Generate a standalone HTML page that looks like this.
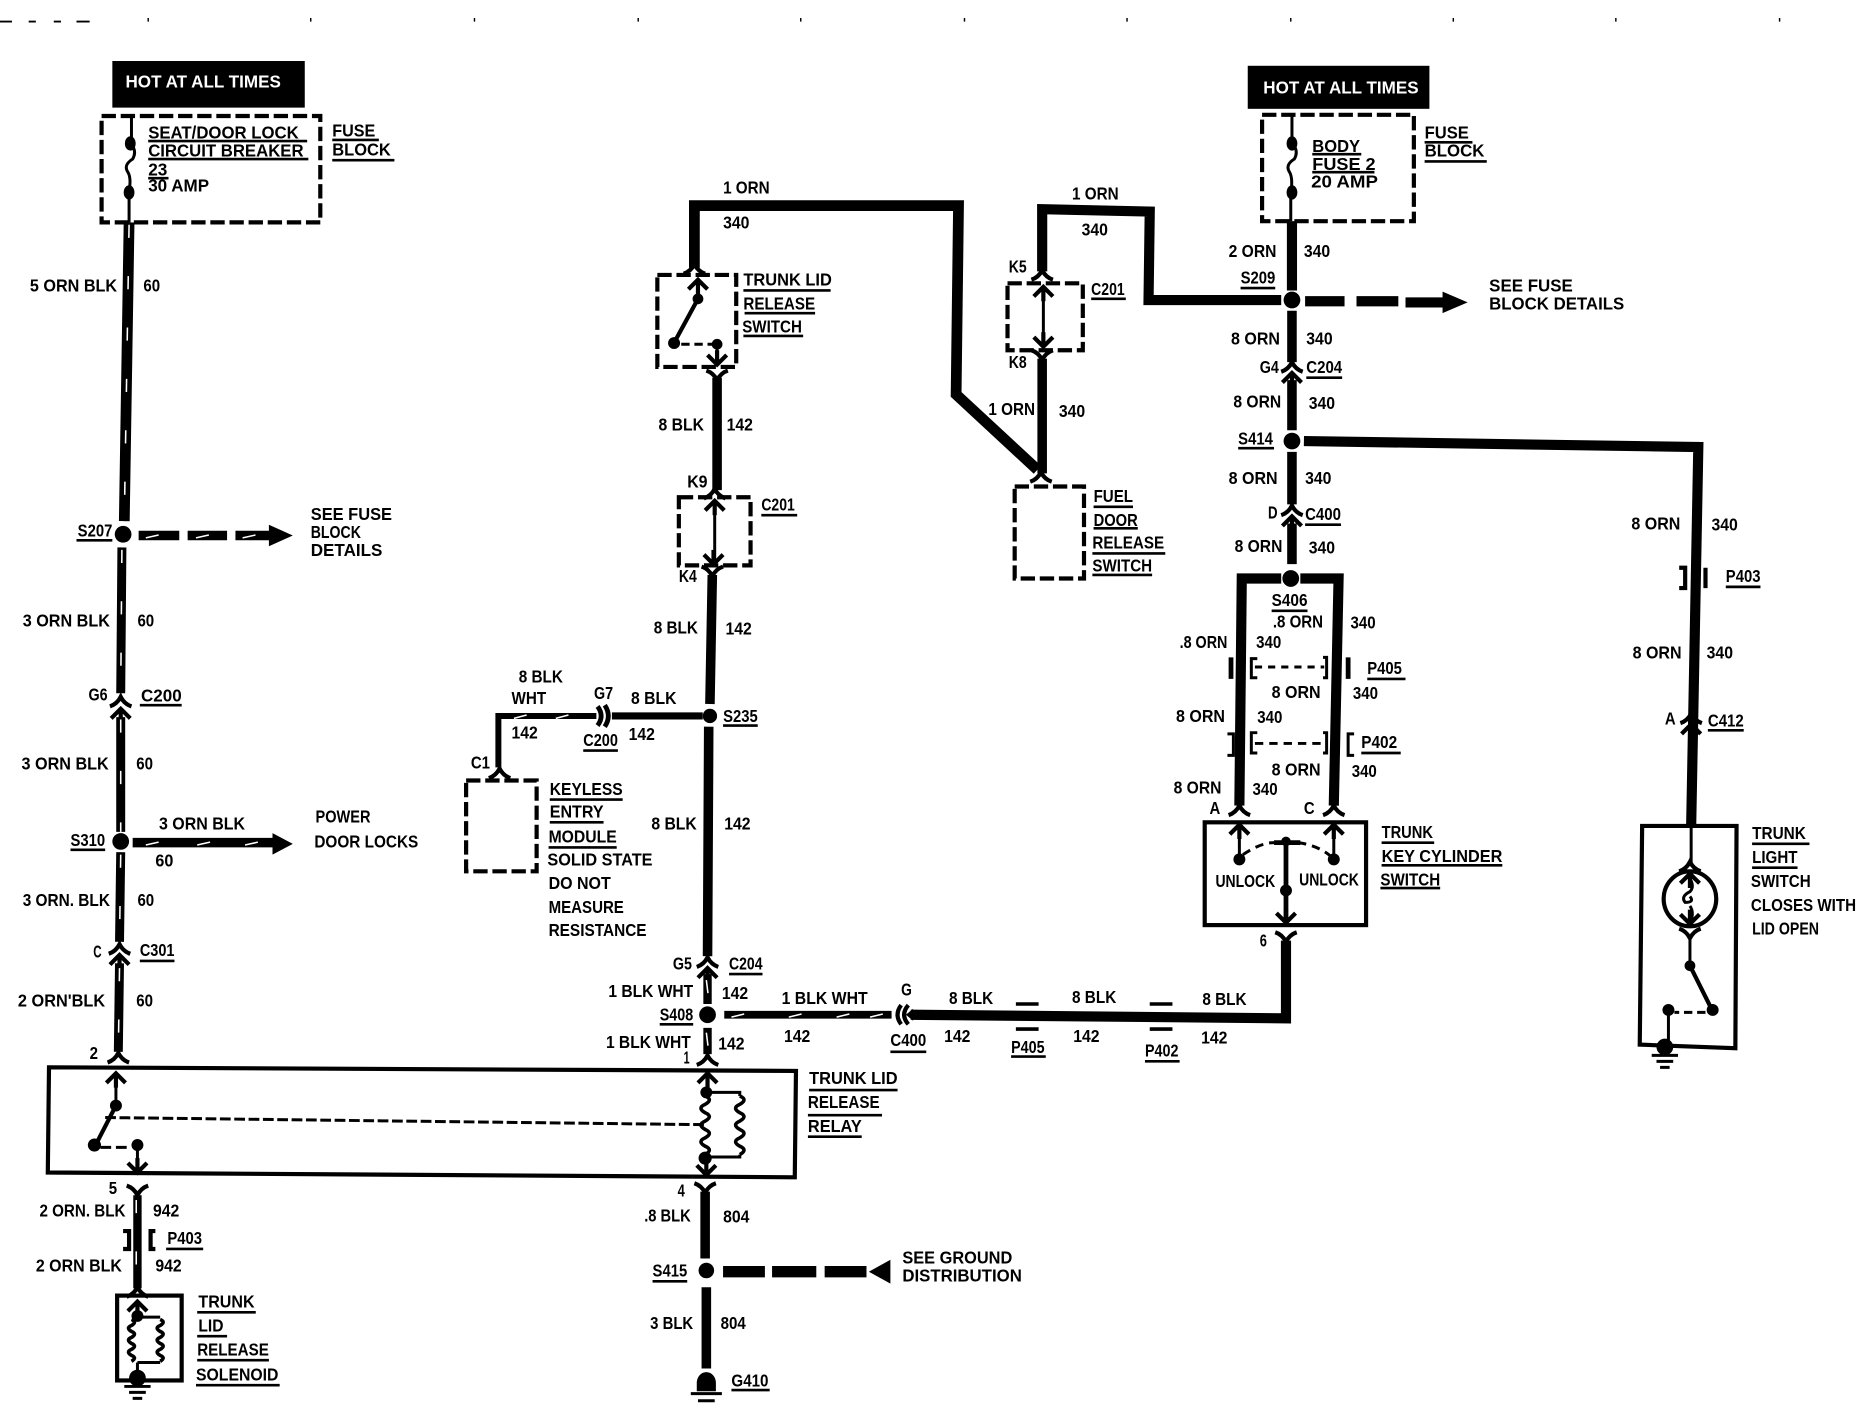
<!DOCTYPE html>
<html><head><meta charset="utf-8"><style>
html,body{margin:0;padding:0;background:#fff;width:1874px;height:1408px;overflow:hidden}
svg{display:block}
text{font-family:"Liberation Sans",sans-serif;font-weight:bold;font-size:15px;fill:#000}
.w{fill:none;stroke:#000;stroke-linejoin:miter;stroke-linecap:butt}
.d{fill:none;stroke:#000;stroke-width:3.5;stroke-dasharray:12 4}
.k{fill:none;stroke:#fff;stroke-width:1.3;stroke-dasharray:11 32}
.t{fill:none;stroke:#000;stroke-width:2.5}
</style></head><body>
<svg width="1874" height="1408" viewBox="0 0 1568 1178" xmlns="http://www.w3.org/2000/svg">
<defs>
<path id="u" d="M-9 5 Q-3 3 0 -3 Q3 3 9 5" fill="none" stroke="#000" stroke-width="3.5"/>
<path id="v" d="M-9 -5 Q-3 -3 0 3 Q3 -3 9 -5" fill="none" stroke="#000" stroke-width="3.5"/>
<path id="au" d="M-8 6 L0 -2 L8 6 M0 -2 V10" fill="none" stroke="#000" stroke-width="3.5"/>
<path id="av" d="M-8 -6 L0 2 L8 -6 M0 2 V-10" fill="none" stroke="#000" stroke-width="3.5"/>
<path id="coil" d="M0 0 q7 3 0 7 q-7 3 0 7 q7 3 0 7 q-7 3 0 7 q7 3 0 7 q-7 3 0 7 q7 3 0 7" fill="none" stroke="#000" stroke-width="3"/>
<path id="coils" d="M0 0 q5 2 0 5 q-5 2 0 5 q5 2 0 5 q-5 2 0 5 q5 2 0 5 q-5 2 0 5 q5 2 0 5" fill="none" stroke="#000" stroke-width="3"/>
</defs>

<!-- top marks -->
<path d="M0 18H10M24 18H30M45 18H51M64 18H75" stroke="#000" stroke-width="1.5"/>
<path d="M124 15v3M260 15v3M397 15v3M534 15v3M670 15v3M807 15v3M943 15v3M1080 15v3M1216 15v3M1352 15v3M1489 15v3" stroke="#000" stroke-width="1.2"/>

<!-- HOT boxes -->
<rect x="94" y="51" width="161" height="39" fill="#000"/>
<rect x="1044" y="55" width="152" height="36" fill="#000"/>

<!-- Fuse boxes -->
<rect class="d" x="85" y="97" width="183" height="89"/>
<rect class="d" x="1056" y="96" width="127" height="89"/>
<path class="t" d="M110 97V120M109 120q6 6 2 13q-8 5 -4 11q3 5 1 16V186"/>
<path class="t" d="M1081 96V120q6 6 2 13q-8 5 -4 11q3 5 1 18V185"/>
<ellipse cx="109" cy="120" rx="4.5" ry="6"/><ellipse cx="108" cy="161" rx="4.5" ry="6"/>
<ellipse cx="1081" cy="120" rx="4.5" ry="6"/><ellipse cx="1081" cy="161" rx="4.5" ry="6"/>

<!-- Left main wire -->
<path class="w" stroke-width="9" d="M108 186L104 436"/>
<path class="k" d="M108 188L104 436"/>
<circle cx="103" cy="447" r="7"/>
<path class="w" stroke-width="7.5" d="M102 458L101 580"/><path class="k" d="M102 460L101 580"/>
<use href="#u" x="101" y="586"/><use href="#au" x="101" y="595"/>
<path class="w" stroke-width="7.5" d="M101 600V696"/><path class="k" d="M101 602V696"/>
<circle cx="101" cy="704" r="7"/>
<path class="w" stroke-width="7.5" d="M101 713L100 788"/><path class="k" d="M101 715L100 788"/>
<use href="#u" x="100" y="793"/><use href="#au" x="100" y="801"/>
<path class="w" stroke-width="7.5" d="M100 806L99 880"/><path class="k" d="M100 810L99 880"/>
<use href="#u" x="99" y="884"/>

<!-- S207 arrow -->
<path class="w" stroke-width="8" d="M116 448H150M157 448H190M197 448H226"/>
<path class="k" d="M122 450L140 446M164 450L182 446M203 450L221 446" stroke-dasharray="none"/>
<path d="M225 439L245 448L225 457Z"/>
<!-- S310 arrow -->
<path class="w" stroke-width="8" d="M111 705H230"/>
<path class="k" d="M122 707L140 703M165 707L183 703M205 707L223 703" stroke-dasharray="none"/>
<path d="M228 697L245 706L228 715Z"/>

<!-- Relay -->
<path fill="none" stroke="#000" stroke-width="3.5" d="M41 893L666 896L665 985L40 981Z"/>
<use href="#au" x="97" y="900"/><path class="t" d="M97 905V925"/><circle cx="97" cy="925" r="5"/>
<path class="w" stroke-width="3.5" d="M97 925L80 958"/><circle cx="79" cy="958" r="5.5"/>
<path class="t" stroke-dasharray="9 3" d="M88 935L590 941"/>
<path class="t" stroke-dasharray="9 4" d="M84 960H110"/><circle cx="115" cy="958" r="5"/>
<path class="t" d="M115 958V978"/><use href="#av" x="115" y="979"/>
<use href="#au" x="592" y="900"/><circle cx="591" cy="914" r="5"/>
<use href="#coil" x="590" y="917"/><use href="#coil" x="619" y="917"/>
<path class="t" d="M591 914H619V917M590 968H619V966"/>
<circle cx="590" cy="969" r="5.5"/><use href="#av" x="591" y="981"/>

<!-- Solenoid -->
<use href="#v" x="115" y="997"/>
<path class="w" stroke-width="7" d="M115 1000V1078"/><path class="k" stroke-width="1" d="M114 1004V1075"/>
<use href="#u" x="115" y="1080"/>
<path class="w" stroke-width="3.5" d="M103 1030H108V1045H103M130 1030H126V1045H130"/>
<rect x="98" y="1084" width="54" height="71" fill="none" stroke="#000" stroke-width="3.5"/>
<use href="#au" x="115" y="1091"/><circle cx="115" cy="1101" r="5"/>
<path class="t" stroke-width="3" d="M115 1102H134M115 1140H134"/>
<use href="#coils" x="110" y="1104"/><use href="#coils" x="134" y="1104"/>
<path class="t" d="M115 1140V1150"/><circle cx="115" cy="1153" r="7"/>
<path d="M104 1160H126M108 1165H122M111 1170H119" stroke="#000" stroke-width="2.5"/>

<!-- Trunk lid release switch wire -->
<path class="w" stroke-width="9" d="M581 224V172H802L800 330L868 393"/>
<use href="#u" x="581" y="224"/>
<rect class="d" x="550" y="230" width="66" height="77"/>
<use href="#au" x="584" y="236"/><path class="t" d="M584 236V250"/><circle cx="584" cy="250" r="4.5"/>
<path class="w" stroke-width="3.5" d="M584 250L565 285"/><circle cx="564" cy="287" r="5"/>
<path class="t" stroke-dasharray="7 4" d="M570 288H596"/><circle cx="600" cy="288" r="4.5"/>
<path class="t" d="M600 288V304"/><use href="#av" x="600" y="303"/>
<use href="#v" x="600" y="315"/>
<path class="w" stroke-width="8" d="M600 316V410"/>
<use href="#u" x="598" y="412"/>
<rect class="d" x="568" y="416" width="60" height="57"/>
<use href="#au" x="598" y="421"/><path class="t" d="M598 423V470"/><use href="#av" x="597" y="470"/>
<use href="#v" x="596" y="479"/>
<path class="w" stroke-width="8" d="M596 481L594 589M593 608L592 800"/>
<circle cx="594" cy="599" r="6"/>
<use href="#u" x="592" y="804"/><use href="#au" x="592" y="812"/>
<path class="w" stroke-width="7" d="M592 815V840"/><path class="k" stroke-dasharray="none" d="M591 820L593 836"/>
<circle cx="592" cy="849" r="7"/>
<path class="w" stroke-width="7" d="M592 860V882"/><path class="k" stroke-dasharray="none" d="M591 864L593 880"/>
<use href="#u" x="592" y="886"/>

<!-- Wire S235 branch -->
<path class="w" stroke-width="6" d="M588 599H512"/>
<path class="w" stroke-width="4" d="M506 590Q512 599 506 608M500 591Q506 599 500 607"/>
<path class="w" stroke-width="5" d="M499 599H417V642"/>
<path class="k" stroke-dasharray="none" d="M430 601L445 597M465 601L480 597"/>
<use href="#u" x="418" y="646"/>
<rect class="d" x="390" y="653" width="59" height="76"/>

<!-- S408 horizontal -->
<path class="w" stroke-width="6.5" d="M606 849H746"/>
<path class="k" stroke-dasharray="none" d="M612 851L628 847M660 851L676 847M700 851L716 847M728 851L744 847"/>
<path class="w" stroke-width="3.5" d="M754 841Q748 849 754 857"/>
<path class="w" stroke-width="3.5" d="M760 841Q753 849 760 857"/>
<path class="w" stroke-width="8.5" d="M762 849L1076 852V787"/>
<path d="M758 849l6 -5v10Z"/>
<use href="#v" x="1076" y="785"/>
<path d="M850 840H869M850 861H869M962 840H981M962 861H981" stroke="#000" stroke-width="3"/>

<!-- S415 -->
<use href="#v" x="590" y="995"/>
<path class="w" stroke-width="8" d="M590 997V1053"/>
<circle cx="591" cy="1063" r="6.5"/>
<path class="w" stroke-width="9.5" d="M605 1064H640M646 1064H683M690 1064H725"/>
<path d="M727 1064L745 1054V1074Z"/>
<path class="w" stroke-width="8" d="M591 1077V1145"/>
<path d="M583 1164V1157A8 9 0 0 1 599 1157V1164Z"/>
<path d="M578 1166H604M584 1172H598" stroke="#000" stroke-width="2.5"/>

<!-- Right main -->
<path class="w" stroke-width="8.5" d="M1081 185V243"/>
<circle cx="1081" cy="251" r="7"/>
<path class="w" stroke-width="8.5" d="M1072 251H961L962 177L872 175V227"/>
<use href="#u" x="872" y="229"/>
<rect class="d" x="843" y="237" width="63" height="56"/>
<use href="#au" x="873" y="242"/><path class="t" stroke-width="2" d="M873 242V288"/><use href="#av" x="873" y="288"/>
<use href="#v" x="872" y="298"/>
<path class="w" stroke-width="8" d="M872 300V396"/>
<use href="#u" x="871" y="398"/>
<rect class="d" x="849" y="407" width="58" height="77"/>

<path class="w" stroke-width="8.5" d="M1092 252H1125M1135 252H1170M1176 253H1209"/>
<path d="M1207 244L1228 253L1207 262Z"/>
<path class="w" stroke-width="8" d="M1081 260V303"/>
<use href="#u" x="1081" y="306"/><use href="#au" x="1081" y="314"/>
<path class="w" stroke-width="8" d="M1081 318V360"/>
<circle cx="1081" cy="369" r="7"/>
<path class="w" stroke-width="8.5" d="M1091 369L1421 374L1415 692"/>
<path class="w" stroke-width="8" d="M1081 378V422"/>
<use href="#u" x="1081" y="426"/><use href="#au" x="1081" y="434"/>
<path class="w" stroke-width="8" d="M1081 438V472"/>
<circle cx="1080" cy="484" r="7"/>
<path class="w" stroke-width="8.5" d="M1072 484H1039L1037 674"/>
<path class="w" stroke-width="8.5" d="M1088 484H1120L1116 674"/>
<use href="#u" x="1037" y="677"/><use href="#u" x="1116" y="677"/>
<path d="M1030 550V568M1128 550V568" stroke="#000" stroke-width="4"/>
<path class="t" stroke-width="2" d="M1052 551H1047V567H1052M1107 550H1110V567H1107"/>
<path class="t" stroke-width="1" stroke-dasharray="6 5" d="M1050 558H1108"/>
<path class="t" stroke-width="3.5" d="M1027 614H1032V632H1027M1133 614H1128V632H1133"/>
<path class="t" d="M1052 613H1047V630H1052M1107 613H1110V630H1107"/>
<path class="t" stroke-dasharray="7 5" d="M1050 622H1108"/>

<!-- Key cylinder -->
<rect x="1008" y="688" width="135" height="86" fill="none" stroke="#000" stroke-width="3.5"/>
<use href="#au" x="1037" y="692"/><path class="t" d="M1037 694V716"/><circle cx="1037" cy="719" r="5"/>
<use href="#au" x="1116" y="692"/><path class="t" d="M1116 694V716"/><circle cx="1116" cy="719" r="5"/>
<path class="t" stroke-dasharray="7 5" d="M1040 715Q1055 705 1066 705M1086 705Q1102 707 1113 716"/>
<path class="w" stroke-width="4" d="M1066 705H1088"/><path class="w" stroke-width="4" d="M1076 702V770"/>
<circle cx="1076" cy="704" r="4"/><circle cx="1076" cy="745" r="5"/>
<use href="#av" x="1076" y="770"/>

<!-- Trunk light -->
<path d="M1405 475H1410V492H1405M1427 475V492" fill="none" stroke="#000" stroke-width="3.5"/>
<use href="#u" x="1415" y="600"/><use href="#au" x="1415" y="608"/>
<path fill="none" stroke="#000" stroke-width="3.5" d="M1374 691H1453L1452 877L1372 874Z"/>
<path class="t" d="M1415 691V722"/>
<use href="#u" x="1414" y="724"/><use href="#au" x="1414" y="733"/>
<ellipse cx="1414" cy="752" rx="22" ry="23" fill="none" stroke="#000" stroke-width="3.5"/>
<path class="t" d="M1414 735Q1418 742 1414 746Q1406 750 1410 755Q1418 755 1414 750M1414 758Q1418 764 1414 772"/>
<use href="#av" x="1414" y="771"/>
<use href="#v" x="1414" y="782"/>
<path class="t" d="M1414 784V806"/><circle cx="1414" cy="808" r="4.5"/>
<path class="w" stroke-width="3.5" d="M1414 808L1432 844"/><circle cx="1433" cy="845" r="5"/>
<path class="t" stroke-dasharray="7 4" d="M1427 847H1401"/><circle cx="1396" cy="845" r="5"/>
<path class="t" d="M1396 845V872"/><circle cx="1393" cy="876" r="7"/>
<path d="M1382 883H1404M1386 888H1400M1389 893H1397" stroke="#000" stroke-width="2.5"/>

<!-- underlines -->
<path stroke="#000" stroke-width="2.2" fill="none" d="M124 118H257M124 133H258M124 149H141M278 117H317M278 134H330
M1098 129H1139M1098 144H1150M1192 119H1232M1192 135H1244
M64 452H94M117 590H152M59 711H88M117 804H146M139 1045H170M165 1098H214M165 1118H190M165 1138H225M164 1159H234
M622 243H695M623 262H682M622 281H672M637 431H667M605 607H634M488 628H517M460 669H521M460 688H505M459 709H516
M610 815H638M552 857H580M745 880H775M846 884H875M958 888H987M677 912H751M676 933H738M676 951H721M546 1072H575M612 1163H644
M913 250H942M915 424H948M915 442H952M914 463H975M914 481H964
M1038 241H1067M1093 316H1123M1036 375H1066M1092 439H1122M1064 511H1094M1144 568H1176M1139 630H1172
M1156 705H1200M1156 724H1257M1155 743H1205M1444 491H1473M1429 611H1459M1466 706H1514M1466 726H1504"/>

<!-- Arial-like labels -->
<g>
<text x="105" y="73" textLength="130" style="fill:#fff">HOT AT ALL TIMES</text>
<text x="1057" y="78" textLength="130" style="fill:#fff">HOT AT ALL TIMES</text>
<text x="124" y="116" textLength="126">SEAT/DOOR LOCK</text>
<text x="124" y="131" textLength="130">CIRCUIT BREAKER</text>
<text x="124" y="147" textLength="16">23</text>
<text x="124" y="160" textLength="51">30 AMP</text>
<text x="278" y="114" textLength="36">FUSE</text>
<text x="278" y="130" textLength="49">BLOCK</text>
<text x="1098" y="127" textLength="40">BODY</text>
<text x="1098" y="142" textLength="53">FUSE 2</text>
<text x="1097" y="157" textLength="56">20 AMP</text>
<text x="1192" y="116" textLength="37">FUSE</text>
<text x="1192" y="131" textLength="50">BLOCK</text>
<text x="1246" y="244" textLength="70">SEE FUSE</text>
<text x="1246" y="259" textLength="113">BLOCK DETAILS</text>
<text x="260" y="435" textLength="68">SEE FUSE</text>
<text x="260" y="450" textLength="42">BLOCK</text>
<text x="260" y="465" textLength="60">DETAILS</text>
<text x="755" y="1057" textLength="92">SEE GROUND</text>
<text x="755" y="1072" textLength="100">DISTRIBUTION</text>
<text x="1017" y="742" textLength="50">UNLOCK</text>
<text x="1087" y="741" textLength="50">UNLOCK</text>
</g>

<!-- Wire labels -->
<g>
<text x="25" y="244" textLength="73">5 ORN BLK</text><text x="120" y="244" textLength="14">60</text>
<text x="65" y="449" textLength="29">S207</text>
<text x="19" y="524" textLength="73">3 ORN BLK</text><text x="115" y="524" textLength="14">60</text>
<text x="74" y="586" textLength="16">G6</text><text x="118" y="587" textLength="34">C200</text>
<text x="18" y="644" textLength="73">3 ORN BLK</text><text x="114" y="644" textLength="14">60</text>
<text x="264" y="688" textLength="46">POWER</text><text x="263" y="709" textLength="87">DOOR LOCKS</text>
<text x="59" y="708" textLength="29">S310</text>
<text x="133" y="694" textLength="72">3 ORN BLK</text><text x="130" y="725" textLength="15">60</text>
<text x="19" y="758" textLength="73">3 ORN. BLK</text><text x="115" y="758" textLength="14">60</text>
<text x="78" y="801" textLength="7">C</text><text x="117" y="800" textLength="29">C301</text>
<text x="15" y="842" textLength="73">2 ORN'BLK</text><text x="114" y="842" textLength="14">60</text>
<text x="75" y="886" textLength="7">2</text><text x="91" y="999" textLength="7">5</text>
<text x="33" y="1018" textLength="72">2 ORN. BLK</text><text x="128" y="1018" textLength="22">942</text>
<text x="140" y="1041" textLength="29">P403</text>
<text x="30" y="1064" textLength="72">2 ORN BLK</text><text x="130" y="1064" textLength="22">942</text>
<text x="166" y="1094" textLength="47">TRUNK</text><text x="166" y="1114" textLength="21">LID</text>
<text x="165" y="1134" textLength="60">RELEASE</text><text x="164" y="1155" textLength="69">SOLENOID</text>

<text x="605" y="162" textLength="39">1 ORN</text><text x="605" y="191" textLength="22">340</text>
<text x="622" y="239" textLength="74">TRUNK LID</text><text x="622" y="259" textLength="60">RELEASE</text><text x="621" y="278" textLength="50">SWITCH</text>
<text x="551" y="360" textLength="38">8 BLK</text><text x="608" y="360" textLength="22">142</text>
<text x="575" y="408" textLength="17">K9</text><text x="637" y="427" textLength="28">C201</text>
<text x="568" y="487" textLength="15">K4</text>
<text x="547" y="530" textLength="37">8 BLK</text><text x="607" y="531" textLength="22">142</text>
<text x="434" y="571" textLength="37">8 BLK</text><text x="428" y="589" textLength="29">WHT</text>
<text x="497" y="585" textLength="16">G7</text><text x="528" y="589" textLength="38">8 BLK</text>
<text x="605" y="604" textLength="29">S235</text>
<text x="428" y="618" textLength="22">142</text><text x="488" y="624" textLength="29">C200</text><text x="526" y="619" textLength="22">142</text>
<text x="394" y="643" textLength="16">C1</text>
<text x="460" y="665" textLength="61">KEYLESS</text><text x="460" y="684" textLength="45">ENTRY</text><text x="459" y="705" textLength="57">MODULE</text>
<text x="458" y="724" textLength="88">SOLID STATE</text><text x="459" y="744" textLength="52">DO NOT</text>
<text x="459" y="764" textLength="63">MEASURE</text><text x="459" y="783" textLength="82">RESISTANCE</text>
<text x="545" y="694" textLength="38">8 BLK</text><text x="606" y="694" textLength="22">142</text>
<text x="563" y="811" textLength="16">G5</text><text x="610" y="811" textLength="28">C204</text>
<text x="509" y="834" textLength="71">1 BLK WHT</text><text x="604" y="836" textLength="22">142</text>
<text x="552" y="854" textLength="28">S408</text>
<text x="507" y="877" textLength="71">1 BLK WHT</text><text x="601" y="878" textLength="22">142</text>
<text x="572" y="890" textLength="5">1</text>
<text x="654" y="840" textLength="72">1 BLK WHT</text><text x="754" y="833" textLength="9">G</text>
<text x="656" y="872" textLength="22">142</text>
<text x="794" y="840" textLength="37">8 BLK</text><text x="790" y="872" textLength="22">142</text>
<text x="745" y="875" textLength="30">C400</text><text x="846" y="881" textLength="28">P405</text>
<text x="897" y="839" textLength="37">8 BLK</text><text x="898" y="872" textLength="22">142</text>
<text x="958" y="884" textLength="28">P402</text>
<text x="1006" y="841" textLength="37">8 BLK</text><text x="1005" y="873" textLength="22">142</text>
<text x="677" y="907" textLength="74">TRUNK LID</text><text x="676" y="927" textLength="60">RELEASE</text><text x="676" y="947" textLength="45">RELAY</text>
<text x="567" y="1001" textLength="6">4</text>
<text x="539" y="1022" textLength="39">.8 BLK</text><text x="605" y="1023" textLength="22">804</text>
<text x="546" y="1068" textLength="29">S415</text>
<text x="544" y="1112" textLength="36">3 BLK</text><text x="603" y="1112" textLength="21">804</text>
<text x="612" y="1160" textLength="31">G410</text>

<text x="897" y="167" textLength="39">1 ORN</text><text x="905" y="197" textLength="22">340</text>
<text x="844" y="228" textLength="15">K5</text><text x="913" y="247" textLength="28">C201</text><text x="844" y="308" textLength="15">K8</text>
<text x="827" y="347" textLength="39">1 ORN</text><text x="886" y="349" textLength="22">340</text>
<text x="915" y="420" textLength="33">FUEL</text><text x="915" y="440" textLength="37">DOOR</text>
<text x="914" y="459" textLength="60">RELEASE</text><text x="914" y="478" textLength="50">SWITCH</text>

<text x="1028" y="215" textLength="40">2 ORN</text><text x="1091" y="215" textLength="22">340</text>
<text x="1038" y="237" textLength="29">S209</text>
<text x="1030" y="288" textLength="41">8 ORN</text><text x="1093" y="288" textLength="22">340</text>
<text x="1054" y="312" textLength="16">G4</text><text x="1093" y="312" textLength="30">C204</text>
<text x="1032" y="341" textLength="40">8 ORN</text><text x="1095" y="342" textLength="22">340</text>
<text x="1036" y="372" textLength="29">S414</text>
<text x="1028" y="405" textLength="41">8 ORN</text><text x="1092" y="405" textLength="22">340</text>
<text x="1061" y="434" textLength="8">D</text><text x="1092" y="435" textLength="30">C400</text>
<text x="1033" y="462" textLength="40">8 ORN</text><text x="1095" y="463" textLength="22">340</text>
<text x="1064" y="507" textLength="30">S406</text>
<text x="1065" y="525" textLength="42">.8 ORN</text><text x="1130" y="526" textLength="21">340</text>
<text x="987" y="542" textLength="40">.8 ORN</text><text x="1051" y="542" textLength="21">340</text>
<text x="1144" y="564" textLength="29">P405</text>
<text x="1064" y="584" textLength="41">8 ORN</text><text x="1132" y="585" textLength="21">340</text>
<text x="984" y="604" textLength="41">8 ORN</text><text x="1052" y="605" textLength="21">340</text>
<text x="1139" y="626" textLength="30">P402</text>
<text x="1064" y="649" textLength="41">8 ORN</text><text x="1131" y="650" textLength="21">340</text>
<text x="982" y="664" textLength="40">8 ORN</text><text x="1048" y="665" textLength="21">340</text>
<text x="1012" y="681" textLength="9">A</text><text x="1091" y="681" textLength="9">C</text>
<text x="1156" y="701" textLength="43">TRUNK</text><text x="1156" y="721" textLength="101">KEY CYLINDER</text><text x="1155" y="741" textLength="50">SWITCH</text>
<text x="1054" y="792" textLength="6">6</text>
<text x="1365" y="443" textLength="41">8 ORN</text><text x="1432" y="444" textLength="22">340</text>
<text x="1444" y="487" textLength="29">P403</text>
<text x="1366" y="551" textLength="41">8 ORN</text><text x="1428" y="551" textLength="22">340</text>
<text x="1393" y="606" textLength="9">A</text><text x="1429" y="608" textLength="30">C412</text>
<text x="1466" y="702" textLength="45">TRUNK</text><text x="1466" y="722" textLength="38">LIGHT</text>
<text x="1465" y="742" textLength="50">SWITCH</text><text x="1465" y="762" textLength="88">CLOSES WITH</text><text x="1466" y="782" textLength="56">LID OPEN</text>
</g>
</svg>
<script>document.querySelectorAll('text').forEach(function(t){t.setAttribute('lengthAdjust','spacingAndGlyphs')});</script>
</body></html>
